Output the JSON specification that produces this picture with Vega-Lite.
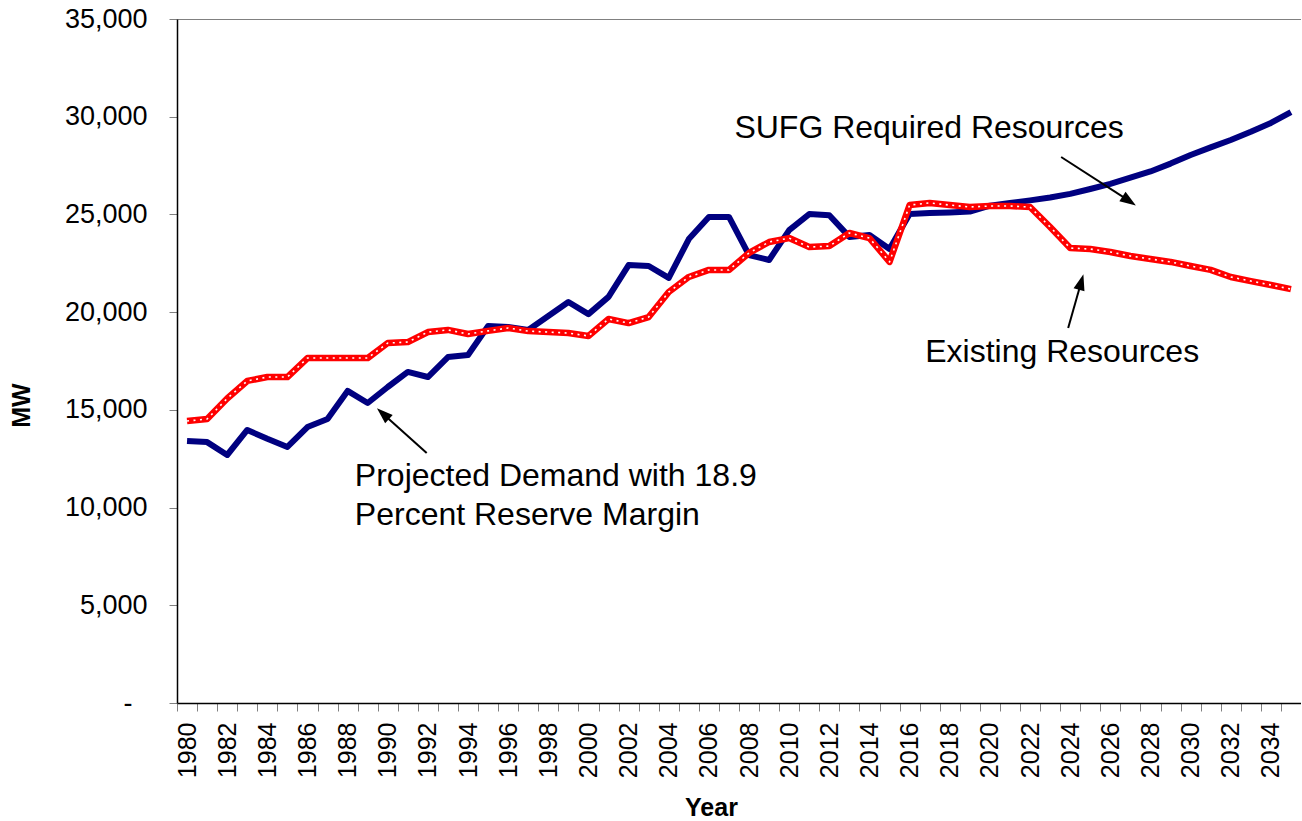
{
  "$schema": "https://vega.github.io/schema/vega-lite/v6.json",
  "width": 1124,
  "height": 684,
  "autosize": {"type": "none"},
  "padding": {"left": 177, "top": 19, "right": 0, "bottom": 118},
  "background": "white",
  "config": {
    "font": "Liberation Sans",
    "view": {"stroke": "#808080", "strokeWidth": 1},
    "axis": {"grid": false, "labelFont": "Liberation Sans", "titleFont": "Liberation Sans", "labelColor": "black", "titleColor": "black"}
  },
  "datasets": {
    "series": [
      {"year": 1980, "required": 13410, "existing": 14430},
      {"year": 1981, "required": 13350, "existing": 14530},
      {"year": 1982, "required": 12690, "existing": 15580},
      {"year": 1983, "required": 13970, "existing": 16480},
      {"year": 1984, "required": 13520, "existing": 16680},
      {"year": 1985, "required": 13100, "existing": 16680},
      {"year": 1986, "required": 14120, "existing": 17650},
      {"year": 1987, "required": 14530, "existing": 17650},
      {"year": 1988, "required": 15970, "existing": 17650},
      {"year": 1989, "required": 15350, "existing": 17650},
      {"year": 1990, "required": 16170, "existing": 18420},
      {"year": 1991, "required": 16940, "existing": 18470},
      {"year": 1992, "required": 16680, "existing": 18980},
      {"year": 1993, "required": 17700, "existing": 19090},
      {"year": 1994, "required": 17810, "existing": 18880},
      {"year": 1995, "required": 19290, "existing": 19040},
      {"year": 1996, "required": 19240, "existing": 19190},
      {"year": 1997, "required": 19090, "existing": 19030},
      {"year": 1998, "required": 19800, "existing": 18980},
      {"year": 1999, "required": 20520, "existing": 18930},
      {"year": 2000, "required": 19900, "existing": 18780},
      {"year": 2001, "required": 20780, "existing": 19650},
      {"year": 2002, "required": 22410, "existing": 19440},
      {"year": 2003, "required": 22360, "existing": 19750},
      {"year": 2004, "required": 21750, "existing": 21030},
      {"year": 2005, "required": 23740, "existing": 21800},
      {"year": 2006, "required": 24870, "existing": 22160},
      {"year": 2007, "required": 24870, "existing": 22160},
      {"year": 2008, "required": 22920, "existing": 23030},
      {"year": 2009, "required": 22670, "existing": 23590},
      {"year": 2010, "required": 24200, "existing": 23790},
      {"year": 2011, "required": 25020, "existing": 23330},
      {"year": 2012, "required": 24960, "existing": 23380},
      {"year": 2013, "required": 23850, "existing": 24050},
      {"year": 2014, "required": 23950, "existing": 23790},
      {"year": 2015, "required": 23230, "existing": 22570},
      {"year": 2016, "required": 25020, "existing": 25480},
      {"year": 2017, "required": 25070, "existing": 25590},
      {"year": 2018, "required": 25100, "existing": 25480},
      {"year": 2019, "required": 25150, "existing": 25380},
      {"year": 2020, "required": 25450, "existing": 25430},
      {"year": 2021, "required": 25580, "existing": 25430},
      {"year": 2022, "required": 25720, "existing": 25380},
      {"year": 2023, "required": 25870, "existing": 24360},
      {"year": 2024, "required": 26050, "existing": 23280},
      {"year": 2025, "required": 26300, "existing": 23230},
      {"year": 2026, "required": 26560, "existing": 23080},
      {"year": 2027, "required": 26880, "existing": 22870},
      {"year": 2028, "required": 27200, "existing": 22720},
      {"year": 2029, "required": 27600, "existing": 22570},
      {"year": 2030, "required": 28040, "existing": 22360},
      {"year": 2031, "required": 28430, "existing": 22160},
      {"year": 2032, "required": 28810, "existing": 21800},
      {"year": 2033, "required": 29230, "existing": 21590},
      {"year": 2034, "required": 29680, "existing": 21390},
      {"year": 2035, "required": 30240, "existing": 21180}
    ],
    "notes": [
      {"x": 2007.27, "y": 28910, "text": "SUFG Required Resources"},
      {"x": 2016.78, "y": 17450, "text": "Existing Resources"},
      {"x": 1988.36, "y": 11100, "text": "Projected Demand with 18.9"},
      {"x": 1988.36, "y": 9110, "text": "Percent Reserve Margin"}
    ],
    "arrows": [
      {"id": "sufg", "x": 2023.55, "y": 27940, "x2": 2026.94, "y2": 25690},
      {"id": "existing", "x": 2023.9, "y": 19190, "x2": 2024.55, "y2": 21540},
      {"id": "projected", "x": 1991.94, "y": 12790, "x2": 1989.76, "y2": 14800}
    ]
  },
  "layer": [
    {
      "data": {"name": "series"},
      "encoding": {
        "x": {
          "field": "year", "type": "ordinal", "bandPosition": 0.5,
          "scale": {"type": "band", "paddingInner": 0, "paddingOuter": 0},
          "axis": {
            "title": "Year", "titleFontSize": 25, "titleFontWeight": "bold",
            "titleX": 534, "titleY": 112, "titleBaseline": "alphabetic", "titleAlign": "center",
            "labelAngle": -90, "labelAlign": "right", "labelBaseline": "middle",
            "labelFontSize": 25, "labelPadding": 11, "labelOverlap": false,
            "labelExpr": "datum.value % 2 == 0 ? datum.label : ''",
            "tickBand": "extent", "tickSize": 8, "tickColor": "#808080",
            "domainColor": "black", "domainWidth": 1.5
          }
        },
        "y": {
          "type": "quantitative",
          "scale": {"domain": [0, 35000], "nice": false},
          "axis": {
            "title": "MW", "titleFontSize": 25, "titleFontWeight": "bold",
            "titleX": -156, "titleY": 386, "titleAngle": -90, "titleAlign": "center", "titleBaseline": "middle",
            "values": [0, 5000, 10000, 15000, 20000, 25000, 30000, 35000],
            "labelExpr": "datum.value == 0 ? '-' : format(datum.value, ',')",
            "labelFontSize": 27,
            "labelPadding": {"condition": {"test": "datum.value == 0", "value": 37}, "value": 22},
            "tickSize": 8, "tickColor": "#808080",
            "domainColor": "black", "domainWidth": 1.5
          }
        }
      },
      "layer": [
        {"mark": {"type": "line", "color": "#000080", "strokeWidth": 6, "strokeJoin": "round"}, "encoding": {"y": {"field": "required", "type": "quantitative"}}},
        {"mark": {"type": "line", "color": "#FF0000", "strokeWidth": 6.5, "strokeJoin": "round"}, "encoding": {"y": {"field": "existing", "type": "quantitative"}}},
        {"mark": {"type": "line", "color": "white", "strokeWidth": 1.6, "strokeDash": [2, 4.5], "strokeJoin": "round"}, "encoding": {"y": {"field": "existing", "type": "quantitative"}}}
      ]
    },
    {
      "data": {"name": "notes"},
      "mark": {"type": "text", "font": "Liberation Sans", "fontSize": 32, "align": "left", "baseline": "alphabetic", "color": "black"},
      "encoding": {
        "x": {"field": "x", "type": "quantitative", "scale": {"domain": [1979.5, 2035.5], "nice": false, "zero": false}, "axis": null},
        "y": {"field": "y", "type": "quantitative"},
        "text": {"field": "text"}
      }
    },
    {
      "data": {"name": "arrows"},
      "mark": {"type": "rule", "color": "black", "strokeWidth": 2},
      "encoding": {
        "x": {"field": "x", "type": "quantitative", "scale": {"domain": [1979.5, 2035.5], "nice": false, "zero": false}, "axis": null},
        "y": {"field": "y", "type": "quantitative"},
        "x2": {"field": "x2"},
        "y2": {"field": "y2"}
      }
    },
    {
      "data": {"name": "arrows"},
      "transform": [{"filter": "datum.id == 'sufg'"}],
      "mark": {"type": "point", "shape": "M0,-1L0.7,1L-0.7,1Z", "filled": true, "color": "black", "size": 260, "angle": 123.4, "opacity": 1},
      "encoding": {
        "x": {"field": "x2", "type": "quantitative", "scale": {"domain": [1979.5, 2035.5], "nice": false, "zero": false}, "axis": null},
        "y": {"field": "y2", "type": "quantitative"}
      }
    },
    {
      "data": {"name": "arrows"},
      "transform": [{"filter": "datum.id == 'existing'"}],
      "mark": {"type": "point", "shape": "M0,-1L0.7,1L-0.7,1Z", "filled": true, "color": "black", "size": 260, "angle": 15.8, "opacity": 1},
      "encoding": {
        "x": {"field": "x2", "type": "quantitative", "scale": {"domain": [1979.5, 2035.5], "nice": false, "zero": false}, "axis": null},
        "y": {"field": "y2", "type": "quantitative"}
      }
    },
    {
      "data": {"name": "arrows"},
      "transform": [{"filter": "datum.id == 'projected'"}],
      "mark": {"type": "point", "shape": "M0,-1L0.7,1L-0.7,1Z", "filled": true, "color": "black", "size": 260, "angle": 312, "opacity": 1},
      "encoding": {
        "x": {"field": "x2", "type": "quantitative", "scale": {"domain": [1979.5, 2035.5], "nice": false, "zero": false}, "axis": null},
        "y": {"field": "y2", "type": "quantitative"}
      }
    }
  ],
  "resolve": {"scale": {"x": "independent"}}
}
